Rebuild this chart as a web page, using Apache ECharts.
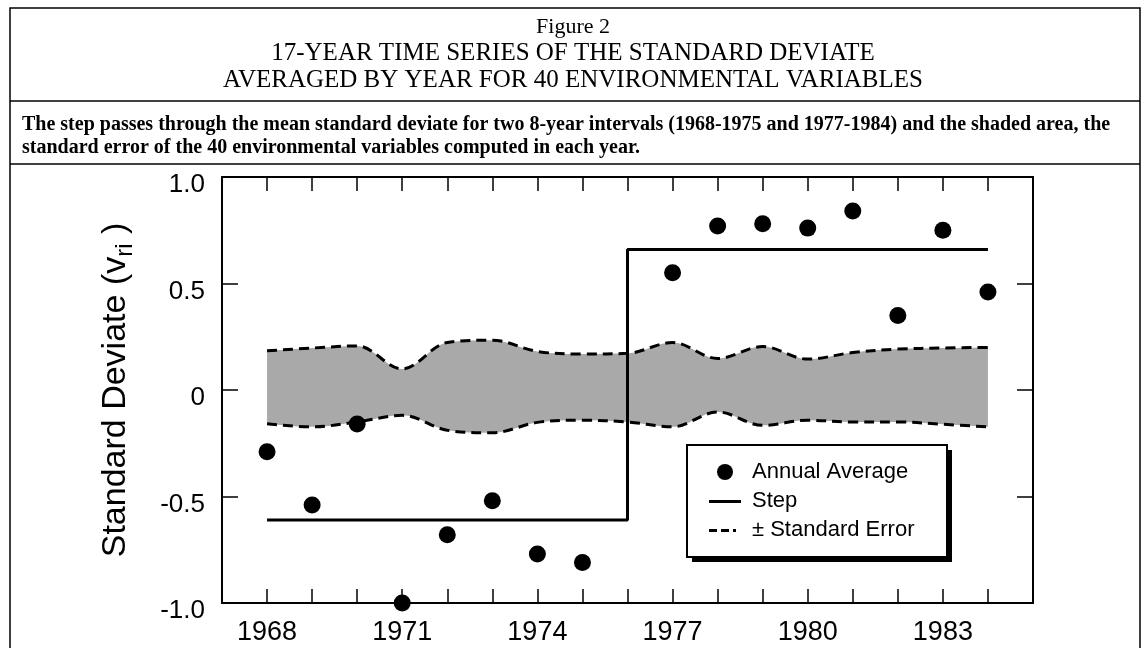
<!DOCTYPE html>
<html>
<head>
<meta charset="utf-8">
<title>Figure 2</title>
<script src="https://cdn.jsdelivr.net/npm/echarts@6/dist/echarts.min.js"></script>
<style>
  html, body { margin: 0; padding: 0; background: #fff; }
  #main { width: 1146px; height: 648px; }
</style>
</head>
<body>
<div id="main"></div>
<script>
// 年平均值 (1976 没有点)
const pointYears = [1968, 1969, 1970, 1971, 1972, 1973, 1974, 1975, 1977, 1978, 1979, 1980, 1981, 1982, 1983, 1984]
const annualAverage = [-0.29, -0.54, -0.16, -1.0, -0.68, -0.52, -0.77, -0.81, 0.55, 0.77, 0.78, 0.76, 0.84, 0.35, 0.75, 0.46]

// 阶梯线: 两个8年区间的均值
const stepYears = [1968, 1976, 1984]
const stepLevels = [-0.61, 0.66, 0.66]

// 标准误差带
const bandYears = [1968, 1969, 1970, 1971, 1972, 1973, 1974, 1975, 1976, 1977, 1978, 1979, 1980, 1981, 1982, 1983, 1984]
const bandUpper = [0.184, 0.197, 0.207, 0.099, 0.223, 0.234, 0.181, 0.169, 0.172, 0.223, 0.148, 0.204, 0.145, 0.176, 0.192, 0.197, 0.200]
const bandLower = [-0.158, -0.173, -0.150, -0.119, -0.189, -0.201, -0.152, -0.142, -0.150, -0.173, -0.103, -0.166, -0.142, -0.150, -0.150, -0.161, -0.173]

// 坐标轴刻度标签
const labeledYears = [1968, 1971, 1974, 1977, 1980, 1983]
const yLabels = { '-1': '-1.0', '-0.5': '-0.5', '0': '0', '0.5': '0.5', '1': '1.0' }

const chart = echarts.init(document.getElementById('main'))

const sans = 'Liberation Sans'
const serif = 'Liberation Serif'

const axisCommon = {
  type: 'value',
  axisLine: { show: true, onZero: false, lineStyle: { color: '#000', width: 2 } },
  axisTick: { show: true, inside: true, length: 14, lineStyle: { color: '#000', width: 1.5 } },
  splitLine: { show: false }
}

// 图例图标 (首尾的空点用来撑开包围盒)
const stepIcon = 'path://M0,0L0,0ZM0,7H32V10H0ZM32,16L32,16Z'
const dashIcon = 'path://M0,0L0,0ZM0,7H8V10H0ZM12,7H20V10H12ZM24,7H27V10H24ZM32,16L32,16Z'

const option = {
  animation: false,
  backgroundColor: '#fff',
  title: [
    { text: 'Figure 2', left: 'center', top: 11, textStyle: { fontFamily: serif, fontSize: 22, fontWeight: 'normal', color: '#000' } },
    { text: '17-YEAR TIME SERIES OF THE STANDARD DEVIATE', left: 'center', top: 36, textStyle: { fontFamily: serif, fontSize: 25, fontWeight: 'normal', color: '#000' } },
    { text: 'AVERAGED BY YEAR FOR 40 ENVIRONMENTAL VARIABLES', left: 'center', top: 63, textStyle: { fontFamily: serif, fontSize: 25, fontWeight: 'normal', color: '#000' } },
    {
      text: 'The step passes through the mean standard deviate for two 8-year intervals (1968-1975 and 1977-1984) and the shaded area, the\nstandard error of the 40 environmental variables computed in each year.',
      left: 17,
      top: 108,
      textStyle: { fontFamily: serif, fontSize: 20, fontWeight: 'bold', color: '#000', lineHeight: 23 }
    }
  ],
  graphic: [
    { type: 'rect', z: 0, shape: { x: 10, y: 8, width: 1130, height: 660 }, style: { fill: null, stroke: '#000', lineWidth: 1.5 } },
    { type: 'line', z: 0, shape: { x1: 10, y1: 101, x2: 1140, y2: 101 }, style: { stroke: '#000', lineWidth: 1.5 } },
    { type: 'line', z: 0, shape: { x1: 10, y1: 164, x2: 1140, y2: 164 }, style: { stroke: '#000', lineWidth: 1.5 } },
    // 图例框和阴影
    { type: 'rect', z: 5, shape: { x: 692, y: 450, width: 260, height: 112 }, style: { fill: '#000' } },
    { type: 'rect', z: 5, shape: { x: 687, y: 445, width: 260, height: 112 }, style: { fill: '#fff', stroke: '#000', lineWidth: 2 } }
  ],
  grid: { left: 222, top: 177, right: 113, bottom: 45 },
  legend: {
    data: [
      { name: 'Annual Average', icon: 'circle', itemStyle: { color: '#000' } },
      { name: 'Step', icon: stepIcon, itemStyle: { color: '#000' } },
      { name: '± Standard Error', icon: dashIcon, itemStyle: { color: '#000' } }
    ],
    z: 6,
    orient: 'vertical',
    left: 687,
    top: 445,
    padding: [16, 20, 16, 22],
    itemGap: 7,
    itemWidth: 32,
    itemHeight: 16,
    selectedMode: false,
    textStyle: { fontFamily: sans, fontSize: 22, color: '#000', padding: [0, 0, 0, 6] }
  },
  xAxis: [
    {
      ...axisCommon,
      position: 'bottom',
      min: 1967,
      max: 1985,
      interval: 1,
      axisLabel: {
        margin: 16,
        fontFamily: sans,
        fontSize: 27,
        color: '#000',
        formatter: v => labeledYears.includes(v) ? String(v) : ''
      }
    },
    {
      ...axisCommon,
      position: 'top',
      min: 1967,
      max: 1985,
      interval: 1,
      axisLabel: { show: false }
    }
  ],
  yAxis: [
    {
      ...axisCommon,
      position: 'left',
      min: -1,
      max: 1,
      interval: 0.5,
      axisTick: { show: true, inside: true, length: 16, lineStyle: { color: '#000', width: 1.5 } },
      axisLabel: {
        margin: 17,
        fontFamily: sans,
        fontSize: 26,
        color: '#000',
        // 原图的标签比刻度略低
        verticalAlign: 'top',
        lineHeight: 16,
        formatter: v => yLabels[String(v)]
      },
      name: 'Standard Deviate (v{sub|ri} )',
      nameLocation: 'middle',
      nameRotate: 90,
      nameGap: 85,
      nameTextStyle: {
        fontFamily: sans,
        fontSize: 34,
        color: '#000',
        rich: {
          sub: { fontFamily: sans, fontSize: 24, color: '#000', padding: [18, 0, 0, 0] }
        }
      }
    },
    {
      ...axisCommon,
      position: 'right',
      min: -1,
      max: 1,
      interval: 0.5,
      axisTick: { show: true, inside: true, length: 16, lineStyle: { color: '#000', width: 1.5 } },
      axisLabel: { show: false }
    }
  ],
  series: [
    // 误差带: 上下虚线各自填充到 0, 合起来就是灰色带
    {
      name: '± Standard Error',
      type: 'line',
      smooth: 0.35,
      symbol: 'none',
      itemStyle: { color: '#000' },
      lineStyle: { color: '#000', width: 3, type: [10, 6] },
      areaStyle: { color: '#a9a9a9', opacity: 1, origin: 'auto' },
      data: bandYears.map((y, i) => [y, bandUpper[i]]),
      z: 2
    },
    {
      name: '± Standard Error',
      type: 'line',
      smooth: 0.35,
      symbol: 'none',
      itemStyle: { color: '#000' },
      lineStyle: { color: '#000', width: 3, type: [10, 6] },
      areaStyle: { color: '#a9a9a9', opacity: 1, origin: 'auto' },
      data: bandYears.map((y, i) => [y, bandLower[i]]),
      z: 2
    },
    {
      name: 'Step',
      type: 'line',
      step: 'end',
      symbol: 'none',
      itemStyle: { color: '#000' },
      lineStyle: { color: '#000', width: 3 },
      data: stepYears.map((y, i) => [y, stepLevels[i]]),
      z: 3
    },
    {
      name: 'Annual Average',
      type: 'scatter',
      symbol: 'circle',
      symbolSize: 17,
      itemStyle: { color: '#000', opacity: 1 },
      data: pointYears.map((y, i) => [y, annualAverage[i]]),
      z: 4
    }
  ]
}

chart.setOption(option)
</script>
</body>
</html>
